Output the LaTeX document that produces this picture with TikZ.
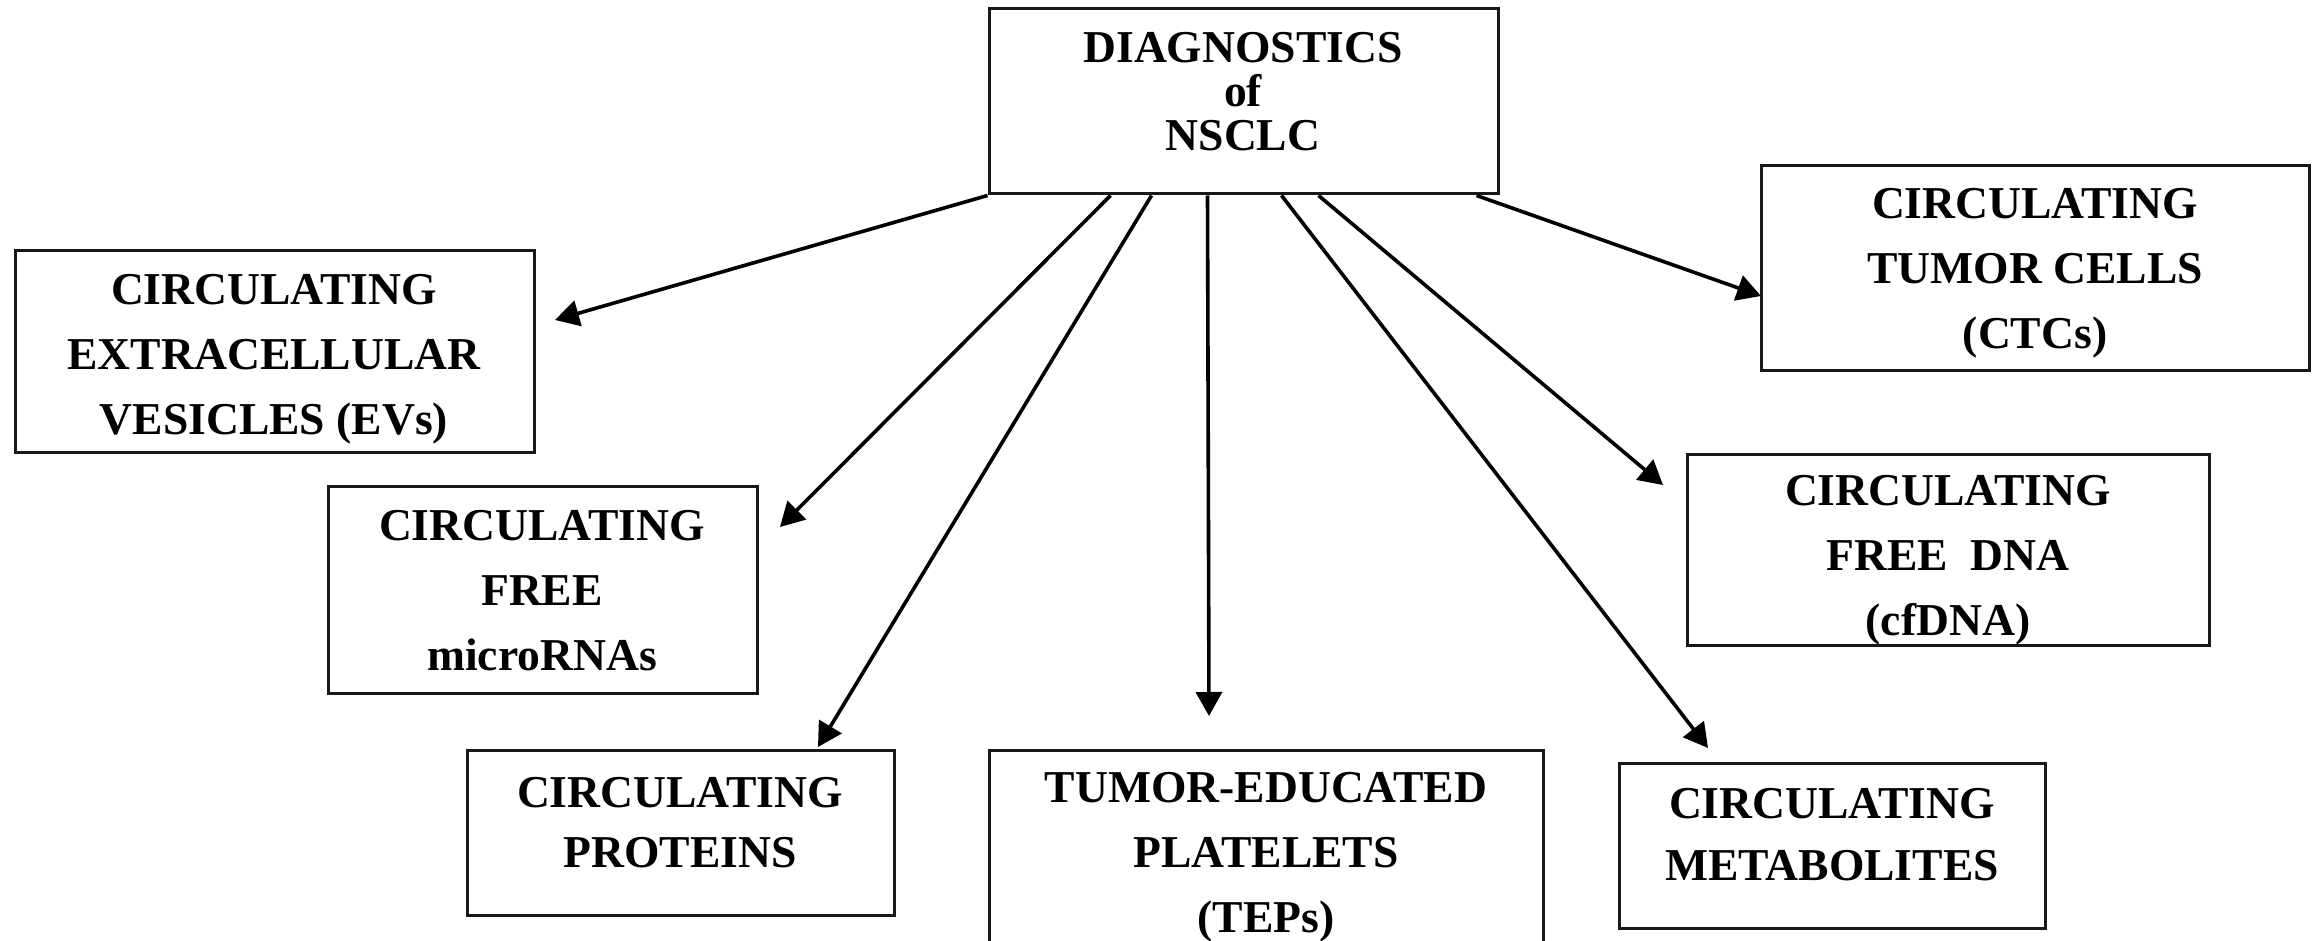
\documentclass[tikz,border=0pt]{standalone}
\usepackage{fontspec}
\setmainfont{Liberation Serif}
\usetikzlibrary{arrows.meta,fit}
\begin{document}
\begin{tikzpicture}[x=0.5pt,y=-0.5pt,
  box/.style={draw=black!90, line width=1.5pt, rectangle, inner sep=0pt},
  lbl/.style={align=center, font=\bfseries\fontsize{22.8pt}{32.5pt}\selectfont, inner sep=0pt},
  conn/.style={line width=1.8pt, -{Triangle[length=12pt,width=13pt]}}]
\clip (0,0) rectangle (2318,941);
\fill[white] (0,0) rectangle (2318,941);
% boxes
\node[box, fit={(989,9) (1498,194)}] (main) {};
\node[box, fit={(15,251) (534,452)}] (evs) {};
\node[box, fit={(1761,166) (2309,370)}] (ctc) {};
\node[box, fit={(328,486) (757,693)}] (mir) {};
\node[box, fit={(1687,454) (2209,645)}] (cfdna) {};
\node[box, fit={(467,750) (894,915)}] (prot) {};
\node[box, fit={(989,750) (1543,990)}] (tep) {};
\node[box, fit={(1619,763) (2045,928)}] (meta) {};
% labels
\node[lbl, font=\bfseries\fontsize{22.8pt}{22pt}\selectfont] (mainT) at (1243,92) {DIAGNOSTICS\\of\\NSCLC};
\node[lbl] (evsT) at (274,359) {CIRCULATING\\EXTRACELLULAR\\VESICLES (EVs)};
\node[lbl] (ctcT) at (2035,273) {CIRCULATING\\TUMOR CELLS\\(CTCs)};
\node[lbl] (mirT) at (542,591) {CIRCULATING\\FREE\\microRNAs};
\node[lbl] (cfdnaT) at (1948,560) {CIRCULATING\\FREE\ \ DNA\\(cfDNA)};
\node[lbl, font=\bfseries\fontsize{22.8pt}{30pt}\selectfont] (protT) at (680,823) {CIRCULATING\\PROTEINS};
\node[lbl] (tepT) at (1266,857) {TUMOR-EDUCATED\\PLATELETS\\(TEPs)};
\node[lbl, font=\bfseries\fontsize{22.8pt}{31pt}\selectfont] (metaT) at (1832,835) {CIRCULATING\\METABOLITES};
% connector start points on the main box
\path (main.south west) coordinate (s1)
      ++(123,0) coordinate (s2)
      ++(41,0) coordinate (s3)
      ++(56,0) coordinate (s4)
      ++(74,0) coordinate (s5)
      ++(37,0) coordinate (s6)
      ++(158,0) coordinate (s7);
% connector end points
\coordinate (e1) at (555,320);
\coordinate (e2) at (780,527);
\coordinate (e3) at (818,747);
\coordinate (e4) at (1209,716);
\coordinate (e5) at (1708,748);
\coordinate (e6) at (1663,485);
\coordinate (e7) at (1761,296);
\draw[conn] (s1) -- (e1);
\draw[conn] (s2) -- (e2);
\draw[conn] (s3) -- (e3);
\draw[conn] (s4) -- (e4);
\draw[conn] (s5) -- (e5);
\draw[conn] (s6) -- (e6);
\draw[conn] (s7) -- (e7);
\end{tikzpicture}
\end{document}
